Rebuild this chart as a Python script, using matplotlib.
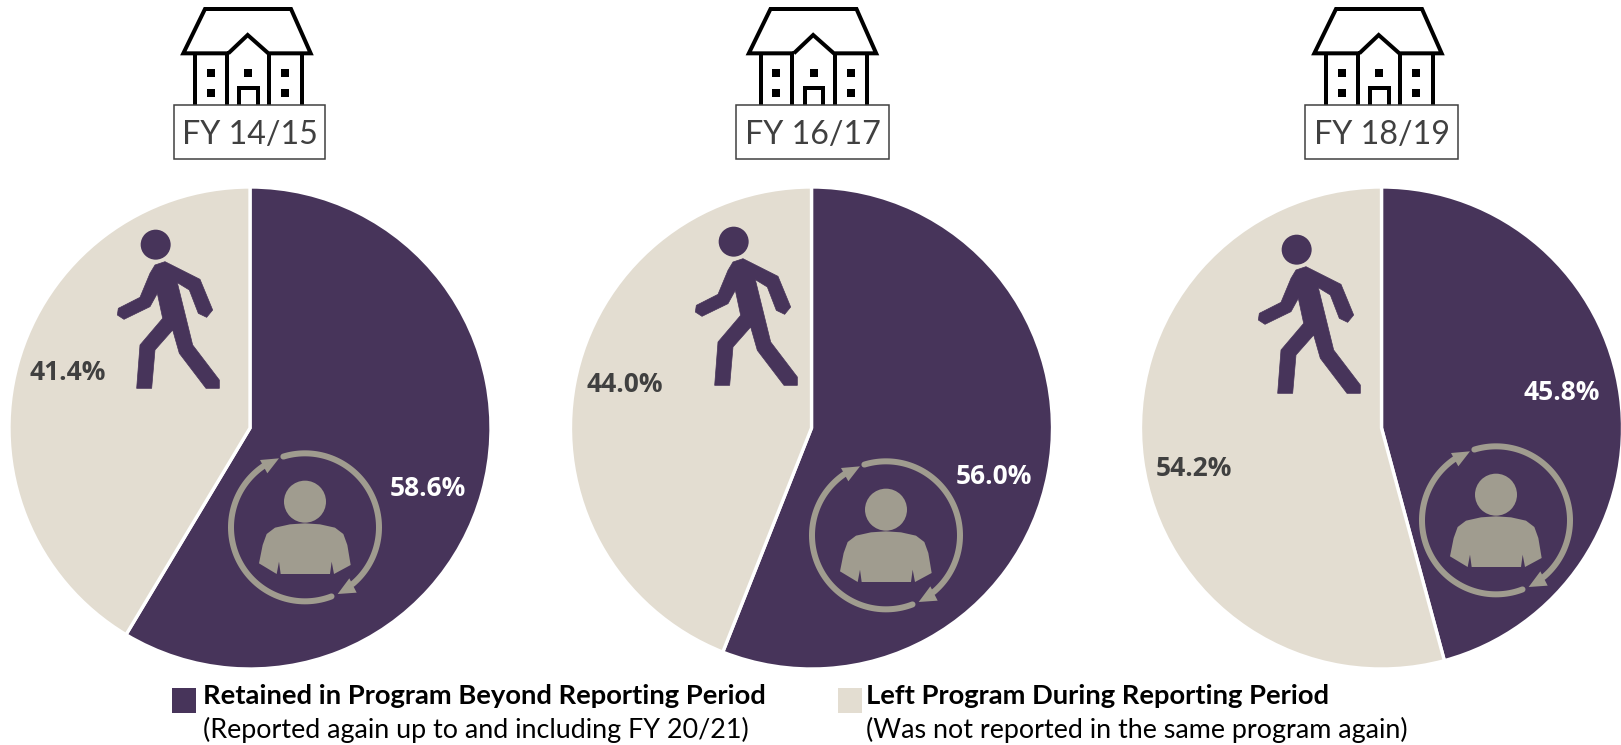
import numpy as np
import matplotlib
matplotlib.use("Agg")
import matplotlib.pyplot as plt
from matplotlib.patches import Polygon, Circle, Rectangle

W, H = 1621, 745
years = ["FY 14/15", "FY 16/17", "FY 18/19"]
retained = [58.6, 56.0, 45.8]
left = [41.4, 44.0, 54.2]
legend_titles = ["Retained in Program Beyond Reporting Period", "Left Program During Reporting Period"]
legend_subs = ["(Reported again up to and including FY 20/21)", "(Was not reported in the same program again)"]

PURPLE = "#47345A"
BEIGE = "#E3DDD1"
GREY = "#A09C8F"
DARK = "#404040"
plt.rcParams["font.family"] = ["Lato", "DejaVu Sans"]

fig = plt.figure(figsize=(W / 100, H / 100), dpi=100, facecolor="white")

pie_centers = [(250, 428), (811.5, 428), (1381.5, 428)]
R = 241
for (cx, cy), a, b in zip(pie_centers, retained, left):
    ax = fig.add_axes([(cx - R) / W, 1 - (cy + R) / H, 2 * R / W, 2 * R / H])
    ax.pie([a, b], colors=[PURPLE, BEIGE], startangle=90, counterclock=False, radius=1,
           wedgeprops=dict(edgecolor="white", linewidth=2.4))
    ax.set_xlim(-1, 1)
    ax.set_ylim(-1, 1)
    ax.set_axis_off()

ov = fig.add_axes([0, 0, 1, 1], facecolor="none")
ov.set_xlim(0, W)
ov.set_ylim(H, 0)
ov.set_axis_off()
PX = 0.72


def house(dx):
    T = lambda pts: ([150 + p[0] / 3 + dx for p in pts], [p[1] / 3 for p in pts])
    kw = dict(color="black", lw=4 * PX, solid_capstyle="butt", solid_joinstyle="miter")
    ov.plot(*T([(235, 160), (100, 160), (165, 27), (423, 27), (482, 160), (355, 160), (293, 105), (235, 160)]), **kw)
    for x in (135, 230, 358, 455):
        ov.plot(*T([(x, 160), (x, 314)]), **kw)
    ov.plot(*T([(267, 314), (267, 265), (323, 265), (323, 314)]), **kw)
    for (x, y) in [(182, 220), (182, 278), (294, 220), (406, 220), (406, 278)]:
        ov.add_patch(Rectangle((150 + (x - 12) / 3 + dx, (y - 12) / 3), 8, 8, color="black", lw=0))


WALK = [(165, 165), (195, 155), (300, 208), (338, 300), (320, 322), (295, 310), (268, 240), (232, 218),
        (278, 405), (358, 510), (358, 535), (318, 535), (238, 430), (218, 360), (165, 420), (155, 535),
        (110, 535), (120, 405), (188, 325), (172, 250), (150, 290), (72, 328), (52, 315), (55, 295),
        (120, 262), (150, 190)]


def walker(dx, dy):
    ov.add_patch(Circle((100 + 167 / 3 + dx, 210 + 104 / 3 + dy), 15, color=PURPLE, lw=0))
    pts = [(100 + p[0] / 3 + dx, 210 + p[1] / 3 + dy) for p in WALK]
    ov.add_patch(Polygon(pts, closed=True, fc=PURPLE, ec=PURPLE, lw=0.5, joinstyle="round"))


def person(dx, dy):
    cx, cy = 210 + 285 / 3 + dx, 430 + 292 / 3 + dy
    T = lambda pts: [(210 + p[0] / 3 + dx, 430 + p[1] / 3 + dy) for p in pts]
    ov.add_patch(Circle((210 + 285 / 3 + dx, 430 + 215 / 3 + dy), 21, color=GREY, lw=0))
    ov.add_patch(Polygon(T([(147, 400), (158, 345), (170, 312), (195, 293), (240, 283), (285, 280), (330, 283),
                            (375, 293), (400, 312), (412, 345), (422, 405), (372, 432), (365, 395),
                            (360, 432), (212, 432), (207, 395), (200, 432)]), closed=True, color=GREY, lw=0))
    for a0, a1 in [(-107, 50), (69, 237)]:
        t = np.radians(np.linspace(a0, a1, 80))
        ov.plot(cx + 74 * np.cos(t), cy + 74 * np.sin(t), color=GREY, lw=6 * PX, solid_capstyle="round")
    ov.add_patch(Polygon(T([(383, 492), (418, 445), (440, 488)]), closed=True, color=GREY, lw=0))
    ov.add_patch(Polygon(T([(207, 85), (150, 90), (172, 130)]), closed=True, color=GREY, lw=0))


house_dx = [0, 565.5, 1131]
boxes = [(174, 325), (736, 889), (1305, 1458)]
walk_off = [(0, 0), (578, -3), (1141, 5)]
pers_off = [(0, 0), (581, 8), (1191, -7)]
for i, yr in enumerate(years):
    house(house_dx[i])
    x0, x1 = boxes[i]
    ov.add_patch(Rectangle((x0, 105), x1 - x0, 54, fc="white", ec=DARK, lw=1.1, zorder=5))
    ov.text((x0 + x1) / 2, 135, yr, ha="center", va="center", fontsize=23.2, color=DARK, zorder=6)
    walker(*walk_off[i])
    person(*pers_off[i])

ret_pos = [(428, 489), (994, 476), (1562, 392)]
left_pos = [(68, 373), (625, 384), (1194, 468)]
PCT = dict(ha="center", va="center", fontsize=19, fontweight="bold", family=["Open Sans", "DejaVu Sans"])
for (x, y), v in zip(ret_pos, retained):
    ov.text(x, y, f"{v:.1f}%", color="white", **PCT)
for (x, y), v in zip(left_pos, left):
    ov.text(x, y, f"{v:.1f}%", color=DARK, **PCT)

for sq_x, tx, col, title, sub in zip([172, 838], [203, 866], [PURPLE, BEIGE], legend_titles, legend_subs):
    ov.add_patch(Rectangle((sq_x, 688), 24, 25, color=col, lw=0))
    ov.text(tx, 696, title, ha="left", va="center", fontsize=19.7, fontweight="bold", color="black")
    ov.text(tx, 730, sub, ha="left", va="center", fontsize=19.4, color="black")

fig.savefig("out.png", dpi=100, facecolor="white")
